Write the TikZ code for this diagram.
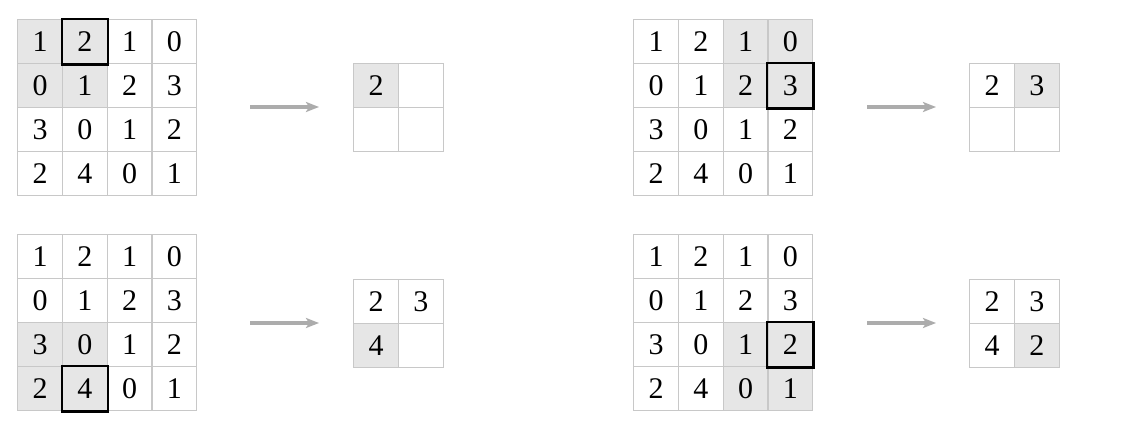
\documentclass[tikz,border=0pt]{standalone}
\usepackage{fontspec}
\setmainfont{Liberation Serif}
\usetikzlibrary{arrows.meta}
\definecolor{gridline}{RGB}{200,200,200}
\definecolor{cellshade}{RGB}{230,230,230}
\definecolor{flowgray}{RGB}{172,172,172}
\tikzset{
  cellbox/.style={draw=gridline, line width=1.3pt, rectangle, inner sep=0pt,
    minimum width=44.75pt, minimum height=44pt, anchor=north west,
    font=\fontsize{30pt}{32pt}\selectfont},
  hlbox/.style={draw=black, line width=2.4pt},
  flow/.style={draw=flowgray, line width=3.5pt, -{Stealth[length=13pt,width=10pt,inset=3pt]}}
}
\newcommand\cellgrid[5]{%
  \foreach \v/\s [count=\i from 0] in {#5} {
    \pgfmathtruncatemacro\r{int(\i/#4)}
    \pgfmathtruncatemacro\c{mod(\i,#4)}
    \node[cellbox, fill=\s] (#1-\r-\c) at (#2+\c*44.75, #3+\r*44) {\v};
  }%
}
\begin{document}
\begin{tikzpicture}[x=1pt,y=-1pt]
\useasboundingbox[fill=white] (0,0) rectangle (1144,434);
% ---------- A ----------
\cellgrid{A}{17}{19}{4}{1/cellshade,2/cellshade,1/white,0/white,
  0/cellshade,1/cellshade,2/white,3/white,
  3/white,0/white,1/white,2/white,
  2/white,4/white,0/white,1/white}
\draw[hlbox] (A-0-1.north west) rectangle (A-0-1.south east);
\cellgrid{a}{353}{63}{2}{2/cellshade,{}/white,{}/white,{}/white}
\coordinate (fA1) at (250,107);
\coordinate (fA2) at (319,107);
\draw[flow] (fA1) -- (fA2);
% ---------- B ----------
\cellgrid{B}{633}{19}{4}{1/white,2/white,1/cellshade,0/cellshade,
  0/white,1/white,2/cellshade,3/cellshade,
  3/white,0/white,1/white,2/white,
  2/white,4/white,0/white,1/white}
\draw[hlbox] (B-1-3.north west) rectangle (B-1-3.south east);
\cellgrid{b}{969}{63}{2}{2/white,3/cellshade,{}/white,{}/white}
\coordinate (fB1) at (867,107);
\coordinate (fB2) at (936,107);
\draw[flow] (fB1) -- (fB2);
% ---------- C ----------
\cellgrid{C}{17}{234}{4}{1/white,2/white,1/white,0/white,
  0/white,1/white,2/white,3/white,
  3/cellshade,0/cellshade,1/white,2/white,
  2/cellshade,4/cellshade,0/white,1/white}
\draw[hlbox] (C-3-1.north west) rectangle (C-3-1.south east);
\cellgrid{c}{353}{279}{2}{2/white,3/white,4/cellshade,{}/white}
\coordinate (fC1) at (250,323);
\coordinate (fC2) at (319,323);
\draw[flow] (fC1) -- (fC2);
% ---------- D ----------
\cellgrid{D}{633}{234}{4}{1/white,2/white,1/white,0/white,
  0/white,1/white,2/white,3/white,
  3/white,0/white,1/cellshade,2/cellshade,
  2/white,4/white,0/cellshade,1/cellshade}
\draw[hlbox] (D-2-3.north west) rectangle (D-2-3.south east);
\cellgrid{d}{969}{279}{2}{2/white,3/white,4/white,2/cellshade}
\coordinate (fD1) at (867,323);
\coordinate (fD2) at (936,323);
\draw[flow] (fD1) -- (fD2);
\end{tikzpicture}
\end{document}
